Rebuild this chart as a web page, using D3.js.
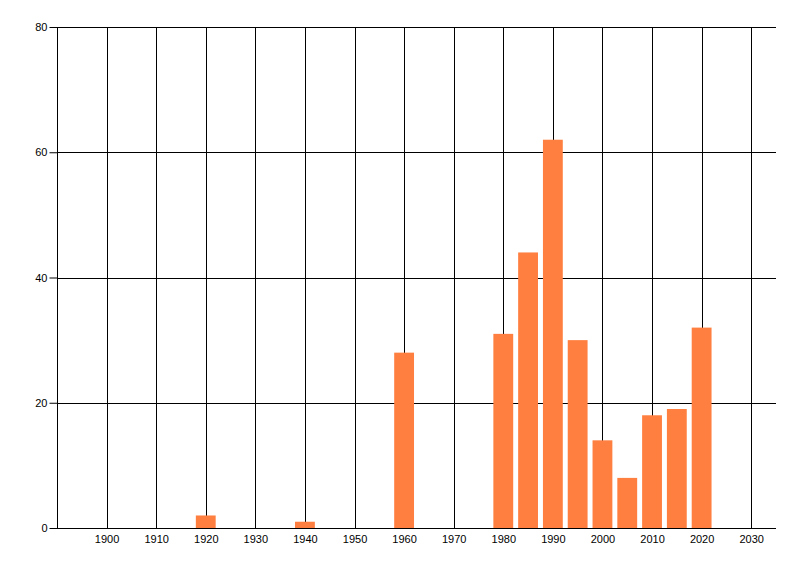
<!DOCTYPE html>
<html>
<head>
<meta charset="utf-8">
<script src="https://cdn.jsdelivr.net/npm/d3@7"></script>
<style>
  body { margin: 0; background: #fff; }
  .tick text { font-family: "Liberation Sans", Arial, sans-serif; font-size: 11px; fill: #000; }
</style>
</head>
<body>
<div id="chart"></div>
<script>
var years = [1920, 1940, 1960, 1980, 1985, 1990, 1995, 2000, 2005, 2010, 2015, 2020];
var counts = [2, 1, 28, 31, 44, 62, 30, 14, 8, 18, 19, 32];
var xTicks = [1900, 1910, 1920, 1930, 1940, 1950, 1960, 1970, 1980, 1990, 2000, 2010, 2020, 2030];
var yTicks = [0, 20, 40, 60, 80];

var width = 800, height = 576;
var margin = {top: 27, right: 24, bottom: 48, left: 57};
var innerW = width - margin.left - margin.right;
var innerH = height - margin.top - margin.bottom;

var svg = d3.select("#chart")
    .append("svg")
    .attr("width", width)
    .attr("height", height);

var g = svg.append("g")
    .attr("transform", "translate(" + margin.left + "," + margin.top + ")");

var x = d3.scaleLinear().domain([1890, 2035]).range([0, innerW]);
var y = d3.scaleLinear().domain([0, 80]).range([innerH, 0]);

// vertical grid lines at the year ticks
g.selectAll(".vgrid")
    .data(xTicks)
    .enter()
    .append("line")
    .attr("class", "vgrid")
    .attr("x1", function(d){ return Math.round(x(d)) + 0.5; })
    .attr("x2", function(d){ return Math.round(x(d)) + 0.5; })
    .attr("y1", 0)
    .attr("y2", innerH)
    .attr("stroke", "#000");

// horizontal grid lines
g.selectAll(".hgrid")
    .data(yTicks)
    .enter()
    .append("line")
    .attr("class", "hgrid")
    .attr("x1", 0)
    .attr("x2", innerW)
    .attr("y1", function(d){ return Math.round(y(d)) + 0.5; })
    .attr("y2", function(d){ return Math.round(y(d)) + 0.5; })
    .attr("stroke", "#000");

// bars, 4 years wide centred on the year
g.selectAll(".bar")
    .data(years)
    .enter()
    .append("rect")
    .attr("class", "bar")
    .attr("x", function(d){ return x(d - 2); })
    .attr("width", function(d){ return x(d + 2) - x(d - 2); })
    .attr("y", function(d, i){ return y(counts[i]); })
    .attr("height", function(d, i){ return y(0) - y(counts[i]); })
    .attr("fill", "#ff7f40");

// left axis line
g.append("line")
    .attr("x1", 0.5).attr("x2", 0.5)
    .attr("y1", 0).attr("y2", innerH)
    .attr("stroke", "#000");

var yAxis = g.append("g")
    .attr("transform", "translate(0.5,0)")
    .call(d3.axisLeft(y).tickValues(yTicks).tickSize(8).tickPadding(2).tickFormat(d3.format("d")));
yAxis.select(".domain").remove();

var xAxis = g.append("g")
    .attr("transform", "translate(0," + (Math.round(innerH) + 0.5) + ")")
    .call(d3.axisBottom(x).tickValues(xTicks).tickSize(0).tickPadding(7).tickFormat(d3.format("d")));
xAxis.select(".domain").attr("d", "M0,0H" + innerW);
</script>
</body>
</html>
